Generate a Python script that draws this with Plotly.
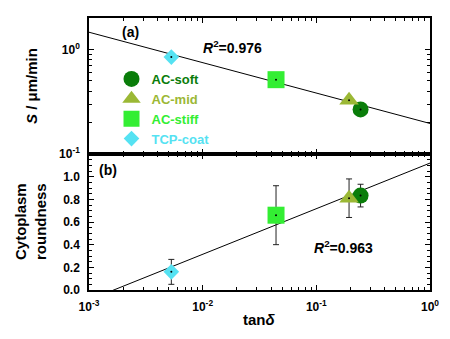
import numpy as np
import plotly.graph_objects as go
from plotly.subplots import make_subplots

# ---- data ----
names = ["AC-soft", "AC-mid", "AC-stiff", "TCP-coat"]
tan_delta = [0.245, 0.194, 0.0442, 0.0053]
speed = [0.267, 0.327, 0.514, 0.845]            # S / um/min
roundness = [0.833, 0.81, 0.66, 0.16]
roundness_err = [0.10, 0.17, 0.26, 0.11]
colors = ["#0a7d0a", "#9bb835", "#33ee33", "#55e2f2"]
symbols = ["circle", "triangle-up", "square", "diamond"]
sizes = [16, 17, 17, 12]

# fits: (a) log10 S = a0 + a1*log10 x ; (b) R = b0 + b1*log10 x
fit_a = (-0.708, -0.291)
fit_b = (1.120, 0.4025)
r2_a = "0.976"
r2_b = "0.963"

x_ticks = [0.001, 0.01, 0.1, 1]
x_ticktext = ["10<sup>-3</sup>", "10<sup>-2</sup>", "10<sup>-1</sup>", "10<sup>0</sup>"]
ya_ticks = [0.1, 1]
ya_ticktext = ["10<sup>-1</sup>", "10<sup>0</sup>"]
yb_ticks = [0.0, 0.2, 0.4, 0.6, 0.8, 1.0]
yb_ticktext = ["0.0", "0.2", "0.4", "0.6", "0.8", "1.0"]

FONT = "Arial, Liberation Sans, sans-serif"

fig = make_subplots(rows=2, cols=1, shared_xaxes=True, vertical_spacing=0)

xl = np.logspace(-3, 0, 60)
fig.add_trace(go.Scatter(x=xl, y=10 ** (fit_a[0] + fit_a[1] * np.log10(xl)), mode="lines",
                         line=dict(color="black", width=1), showlegend=False, hoverinfo="skip"),
              row=1, col=1)
fig.add_trace(go.Scatter(x=xl, y=fit_b[0] + fit_b[1] * np.log10(xl), mode="lines",
                         line=dict(color="black", width=1), showlegend=False, hoverinfo="skip"),
              row=2, col=1)

for i in range(len(names)):
    label = f'<span style="color:{colors[i]}"><b>{names[i]}</b></span>'
    fig.add_trace(go.Scatter(x=[tan_delta[i]], y=[speed[i]], mode="markers", name=label,
                             marker=dict(symbol=symbols[i], size=sizes[i], color=colors[i],
                                         line=dict(width=0))),
                  row=1, col=1)
    fig.add_trace(go.Scatter(x=[tan_delta[i]], y=[roundness[i]], mode="markers", showlegend=False,
                             error_y=dict(type="data", array=[roundness_err[i]], color="#222222",
                                          thickness=1, width=3),
                             marker=dict(symbol=symbols[i], size=sizes[i], color=colors[i],
                                         line=dict(width=0))),
                  row=2, col=1)

# central dots
fig.add_trace(go.Scatter(x=tan_delta, y=speed, mode="markers", showlegend=False,
                         marker=dict(size=2, color="black")), row=1, col=1)
fig.add_trace(go.Scatter(x=tan_delta, y=roundness, mode="markers", showlegend=False,
                         marker=dict(size=2, color="black")), row=2, col=1)

axis_common = dict(showline=True, linecolor="black", linewidth=1.5, mirror="ticks",
                   ticks="inside", ticklen=5, tickwidth=1, tickcolor="black",
                   showgrid=False, zeroline=False,
                   tickfont=dict(family=FONT, size=12, color="black", weight="bold"))

fig.update_xaxes(type="log", range=[-3, 0], tickvals=x_ticks, ticktext=x_ticktext,
                 ticklabelstandoff=5,
                 minor=dict(ticks="inside", ticklen=3, tickcolor="black", dtick="D1", showgrid=False),
                 **axis_common)
fig.update_xaxes(showticklabels=False, row=1, col=1)
fig.update_yaxes(type="log", range=[-1, 0.301], tickvals=ya_ticks, ticktext=ya_ticktext,
                 ticklabelstandoff=5,
                 minor=dict(ticks="inside", ticklen=3, tickcolor="black", dtick="D1", showgrid=False),
                 row=1, col=1, **axis_common)
fig.update_yaxes(range=[0, 1.2], tickvals=yb_ticks, ticktext=yb_ticktext,
                 ticklabelstandoff=5,
                 minor=dict(ticks="inside", ticklen=3, tickcolor="black", dtick=0.05, showgrid=False),
                 row=2, col=1, **axis_common)

ann_font = dict(family=FONT, size=14, color="black", weight="bold")
title_font = dict(family=FONT, size=15, color="black", weight="bold")
common = dict(xref="paper", yref="paper", showarrow=False, xanchor="center", yanchor="middle")
annotations = [
    dict(text="(a)", x=0.122, y=0.95, font=ann_font, **common),
    dict(text="(b)", x=0.056, y=0.441, font=ann_font, **common),
    dict(text=f"<i>R</i><sup>2</sup>={r2_a}", x=0.422, y=0.893, font=ann_font, **common),
    dict(text=f"<i>R</i><sup>2</sup>={r2_b}", x=0.745, y=0.159, font=ann_font, **common),
    dict(text="<i>S</i> / μm/min", x=0, xshift=-58, y=0.75, textangle=-90, font=title_font, **common),
    dict(text="Cytoplasm<br>roundness", x=0, xshift=-59, y=0.25, textangle=-90, font=title_font, **common),
    dict(text="tan<i>δ</i>", x=0.5, y=-0.11, font=title_font, **common),
]

fig.update_layout(
    width=450, height=339,
    margin=dict(l=89, r=20, t=18, b=49),
    paper_bgcolor="white", plot_bgcolor="white",
    font=dict(family=FONT, color="black"),
    annotations=annotations,
    legend=dict(x=0.066, y=0.831, xanchor="left", yanchor="top", bgcolor="rgba(0,0,0,0)",
                font=dict(family=FONT, size=13), tracegroupgap=0, itemsizing="trace"),
)

fig.write_html("out.html")
